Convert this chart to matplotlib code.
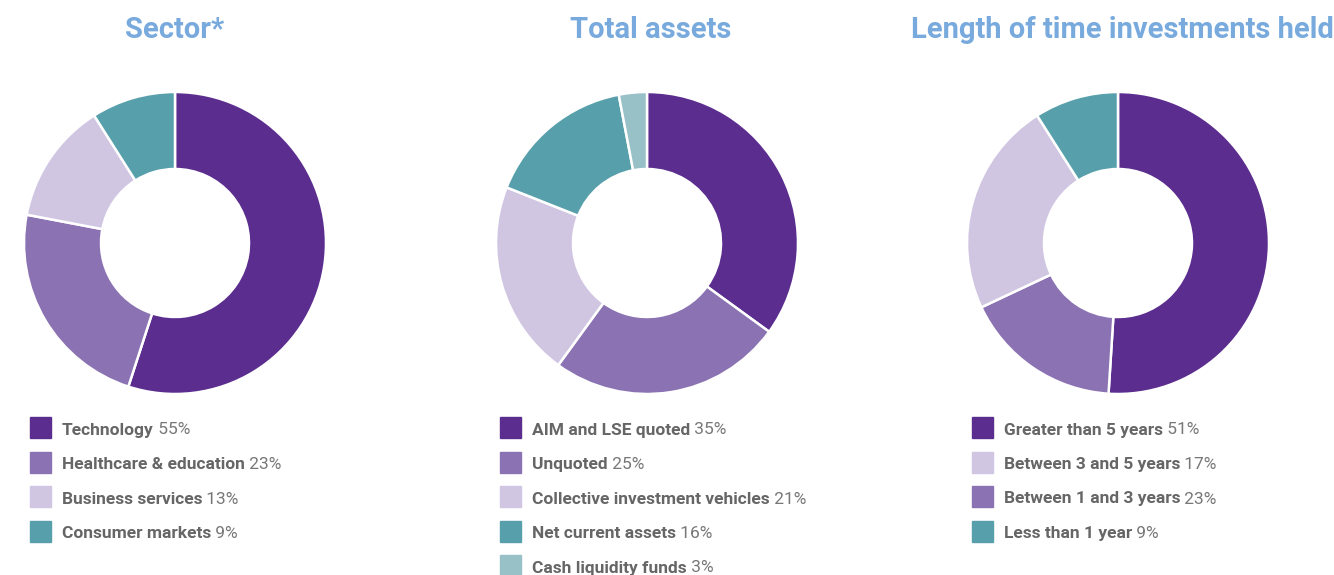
import matplotlib
matplotlib.use("Agg")
import matplotlib.pyplot as plt

W, H = 1334, 575

titles = ["Sector*", "Total assets", "Length of time investments held"]

sector_labels = ["Technology", "Healthcare & education", "Business services", "Consumer markets"]
sector_values = [55, 23, 13, 9]

assets_labels = ["AIM and LSE quoted", "Unquoted", "Collective investment vehicles",
                 "Net current assets", "Cash liquidity funds"]
assets_values = [35, 25, 21, 16, 3]

# Ring order as drawn in the reference
time_values = [51, 17, 23, 9]
# Legend as printed in the reference
time_labels = ["Greater than 5 years", "Between 3 and 5 years", "Between 1 and 3 years", "Less than 1 year"]
time_legend_values = [51, 17, 23, 9]

DARK = "#5b2d8e"
MED = "#8b72b2"
LIGHT = "#d0c6e2"
TEAL = "#57a0ab"
LTEAL = "#97c0c7"

sector_colors = [DARK, MED, LIGHT, TEAL]
assets_colors = [DARK, MED, LIGHT, TEAL, LTEAL]
time_colors = [DARK, MED, LIGHT, TEAL]
time_legend_colors = [DARK, LIGHT, MED, TEAL]

TITLE_COLOR = "#78aadd"
TEXT_COLOR = "#666666"
FONT = ["Roboto", "DejaVu Sans"]

fig = plt.figure(figsize=(W / 100, H / 100), dpi=100)

centers = [175, 647, 1118]
title_x = [175, 651, 1122]
R = 151
CY = 243

panels = [
    (sector_values, sector_colors, sector_labels, sector_values, sector_colors),
    (assets_values, assets_colors, assets_labels, assets_values, assets_colors),
    (time_values, time_colors, time_labels, time_legend_values, time_legend_colors),
]
legend_x = [30, 500, 972]

for i, (vals, cols, labs, lvals, lcols) in enumerate(panels):
    cx = centers[i]
    ax = fig.add_axes([(cx - R) / W, (H - CY - R) / H, 2 * R / W, 2 * R / H])
    ax.pie(vals, colors=cols, startangle=90, counterclock=False, radius=1,
           wedgeprops=dict(width=0.51, edgecolor="white", linewidth=1.8))
    ax.set_xlim(-1.0, 1.0)
    ax.set_ylim(-1.0, 1.0)
    ax.set_aspect("equal")
    ax.axis("off")

    fig.text(title_x[i] / W, 1 - 30 / H, titles[i], ha="center", va="center",
             fontsize=21, fontweight="bold", color=TITLE_COLOR, family=FONT)

    for j, (lab, v, c) in enumerate(zip(labs, lvals, lcols)):
        ry = 428 + j * 34.5
        sx = legend_x[i]
        fig.patches.append(plt.Rectangle((sx / W, (H - ry - 10) / H), 21 / W, 21 / H,
                                         transform=fig.transFigure, color=c, figure=fig))
        t = fig.text((sx + 32) / W, 1 - (ry + 2) / H, lab, ha="left", va="center",
                     fontsize=12.5, fontweight="bold", color=TEXT_COLOR, family=FONT)
        plt.annotate(f" {v}%", xy=(1, 0), xycoords=t, ha="left", va="bottom",
                     fontsize=12.5, color="#777777", family=FONT, annotation_clip=False)

fig.savefig("out.png", dpi=100, facecolor="white")
